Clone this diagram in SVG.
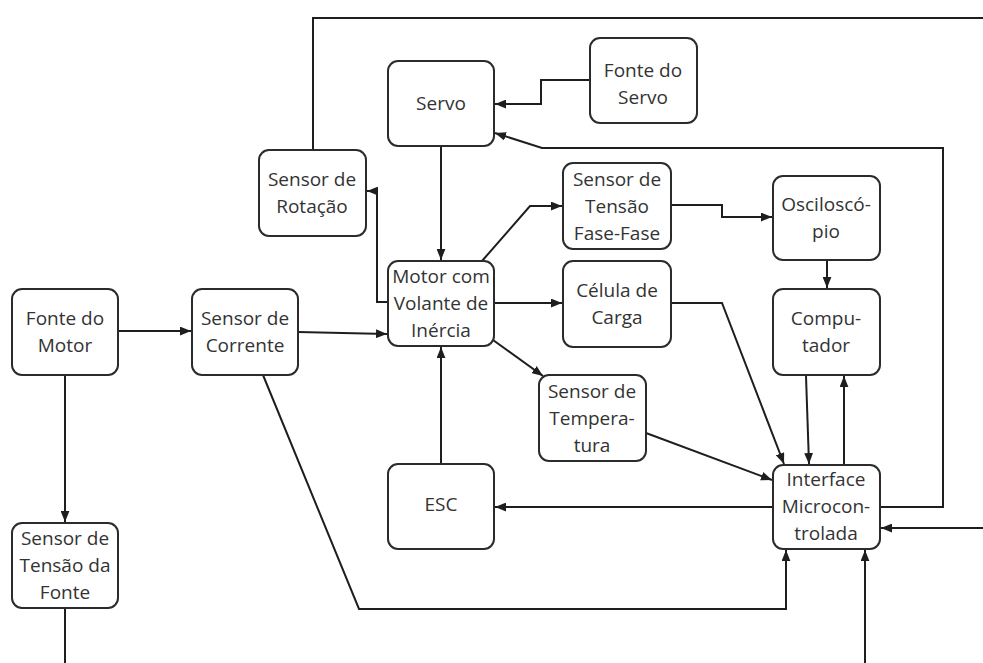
<svg xmlns="http://www.w3.org/2000/svg" width="983" height="663" viewBox="0 0 983 663">
<style>
.box{fill:#fff;stroke:#2b2b2b;stroke-width:2}
.t{font-family:"Open Sans","Noto Sans",sans-serif;font-size:19px;fill:#333;text-anchor:middle}
.c{fill:none;stroke:#1e1e1e;stroke-width:2}
.a{marker-end:url(#arr)}
</style>
<defs>
<marker id="arr" viewBox="0 0 10 8" refX="10" refY="4" markerWidth="11" markerHeight="9" markerUnits="userSpaceOnUse" orient="auto">
<path d="M0,0 L10,4 L0,8 z" fill="#1e1e1e"/>
</marker>
</defs>
<rect width="983" height="663" fill="#fff"/>
<g id="connectors">
<path class="c" d="M313,150 V18 H983"/>
<path class="c a" d="M590,80 H541 V104 H495"/>
<path class="c a" d="M880,507 H943 V148 H542 L495,133"/>
<path class="c a" d="M441,146 V260"/>
<path class="c a" d="M388,302 H377 V191 H367"/>
<path class="c a" d="M482,261 L530,206 H562"/>
<path class="c a" d="M671,205 H722 V217 H772"/>
<path class="c a" d="M827,260 V288"/>
<path class="c a" d="M494,303 H562"/>
<path class="c a" d="M493,340 L543,376"/>
<path class="c a" d="M671,303 H722 L784,464"/>
<path class="c a" d="M646,433 L772,480"/>
<path class="c a" d="M806,376 L809,464"/>
<path class="c a" d="M844,465 V376"/>
<path class="c a" d="M773,507 H495"/>
<path class="c a" d="M441,464 V347"/>
<path class="c a" d="M118,331 H191"/>
<path class="c a" d="M298,332 L387,334"/>
<path class="c a" d="M65,375 V522"/>
<path class="c" d="M65,608 V663"/>
<path class="c a" d="M263,375 L359,609 H786 V550"/>
<path class="c a" d="M983,528 H881"/>
<path class="c a" d="M865,663 V550"/>
</g>
<g id="servo"><rect class="box" x="388" y="61" width="106" height="85" rx="10"/><text class="t" x="441" y="110">Servo</text></g>
<g id="fonte-servo"><rect class="box" x="590" y="38" width="107" height="85" rx="10"/><text class="t" x="643" y="77">Fonte do</text><text class="t" x="643" y="104">Servo</text></g>
<g id="sensor-rotacao"><rect class="box" x="259" y="150" width="107" height="86" rx="10"/><text class="t" x="312" y="186">Sensor de</text><text class="t" x="312" y="213">Rotação</text></g>
<g id="sensor-tensao-ff"><rect class="box" x="563" y="163" width="108" height="86" rx="10"/><text class="t" x="617" y="186">Sensor de</text><text class="t" x="617" y="213">Tensão</text><text class="t" x="617" y="240">Fase-Fase</text></g>
<g id="osciloscopio"><rect class="box" x="773" y="176" width="107" height="84" rx="10"/><text class="t" x="826" y="211">Osciloscó-</text><text class="t" x="826" y="238">pio</text></g>
<g id="motor"><rect class="box" x="388" y="261" width="106" height="85" rx="10"/><text class="t" x="441" y="283">Motor com</text><text class="t" x="441" y="310">Volante de</text><text class="t" x="441" y="337">Inércia</text></g>
<g id="fonte-motor"><rect class="box" x="12" y="289" width="106" height="86" rx="10"/><text class="t" x="65" y="325">Fonte do</text><text class="t" x="65" y="352">Motor</text></g>
<g id="sensor-corrente"><rect class="box" x="192" y="289" width="106" height="86" rx="10"/><text class="t" x="245" y="325">Sensor de</text><text class="t" x="245" y="352">Corrente</text></g>
<g id="celula-carga"><rect class="box" x="563" y="261" width="108" height="86" rx="10"/><text class="t" x="617" y="297">Célula de</text><text class="t" x="617" y="324">Carga</text></g>
<g id="computador"><rect class="box" x="773" y="289" width="107" height="86" rx="10"/><text class="t" x="826" y="325">Compu-</text><text class="t" x="826" y="352">tador</text></g>
<g id="sensor-temperatura"><rect class="box" x="539" y="375" width="107" height="86" rx="10"/><text class="t" x="592" y="398">Sensor de</text><text class="t" x="592" y="425">Tempera-</text><text class="t" x="592" y="452">tura</text></g>
<g id="esc"><rect class="box" x="388" y="464" width="106" height="85" rx="10"/><text class="t" x="441" y="511">ESC</text></g>
<g id="interface"><rect class="box" x="773" y="465" width="107" height="84" rx="10"/><text class="t" x="826" y="486">Interface</text><text class="t" x="826" y="513">Microcon-</text><text class="t" x="826" y="540">trolada</text></g>
<g id="sensor-tensao-fonte"><rect class="box" x="12" y="523" width="106" height="85" rx="10"/><text class="t" x="65" y="545">Sensor de</text><text class="t" x="65" y="572">Tensão da</text><text class="t" x="65" y="599">Fonte</text></g>
</svg>
